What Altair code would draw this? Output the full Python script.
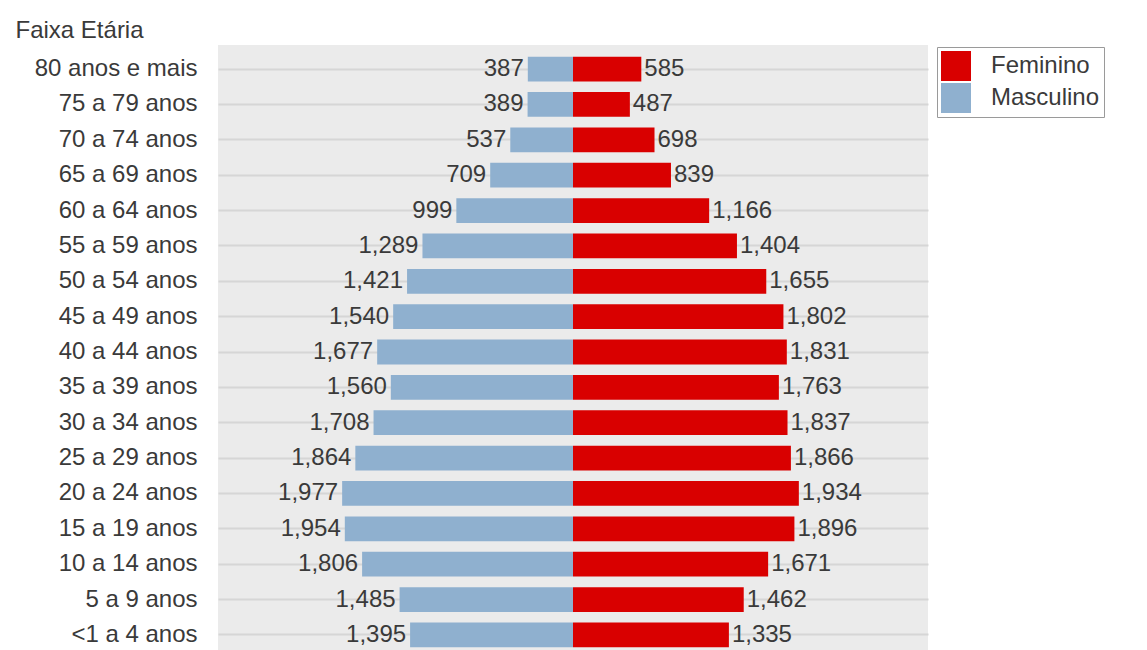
import altair as alt
import pandas as pd

faixas = ["80 anos e mais", "75 a 79 anos", "70 a 74 anos", "65 a 69 anos",
          "60 a 64 anos", "55 a 59 anos", "50 a 54 anos", "45 a 49 anos",
          "40 a 44 anos", "35 a 39 anos", "30 a 34 anos", "25 a 29 anos",
          "20 a 24 anos", "15 a 19 anos", "10 a 14 anos", "5 a 9 anos",
          "<1 a 4 anos"]
masculino = [387, 389, 537, 709, 999, 1289, 1421, 1540, 1677, 1560, 1708,
             1864, 1977, 1954, 1806, 1485, 1395]
feminino = [585, 487, 698, 839, 1166, 1404, 1655, 1802, 1831, 1763, 1837,
            1866, 1934, 1896, 1671, 1462, 1335]
sexos = ["Feminino", "Masculino"]
cores = ["#d90000", "#8fb0cf"]

rows = []
for f, m, w in zip(faixas, masculino, feminino):
    rows.append({"faixa": f, "sexo": "Masculino", "valor": m, "pos": -m})
    rows.append({"faixa": f, "sexo": "Feminino", "valor": w, "pos": w})
df = pd.DataFrame(rows)

FONT = "Liberation Sans"
FS = 24
TXT = "#3a3a3a"

y_enc = alt.Y("faixa:N", sort=faixas,
              scale=alt.Scale(paddingInner=0.3, paddingOuter=0.33),
              axis=alt.Axis(title="Faixa Etária", titleAngle=0, titleAlign="left",
                            titleBaseline="alphabetic", titleX=-203, titleY=-8,
                            titleFontWeight="normal", titleFontSize=FS, titleFont=FONT,
                            titleColor=TXT, labelFont=FONT, labelFontSize=FS,
                            labelColor=TXT, labelPadding=21, ticks=False, domain=False,
                            grid=True, bandPosition=0.5, gridColor="#d6d6d6",
                            gridWidth=2))
x_scale = alt.Scale(domain=[-3040, 3040])

base = alt.Chart(df)

bars = base.mark_bar().encode(
    x=alt.X("pos:Q", scale=x_scale, axis=None),
    y=y_enc,
    color=alt.Color("sexo:N", scale=alt.Scale(domain=sexos, range=cores),
                    legend=alt.Legend(title=None, orient="none", legendX=719, legendY=2,
                                      symbolType="square", symbolSize=900,
                                      symbolStrokeWidth=0, labelFont=FONT,
                                      labelFontSize=FS, labelColor=TXT, labelOffset=20,
                                      padding=4, rowPadding=2, strokeColor="#9a9a9a",
                                      fillColor="white")),
)

lab_m = base.transform_filter(alt.datum.sexo == "Masculino").mark_text(
    align="right", baseline="middle", dx=-4, font=FONT, fontSize=FS, color=TXT
).encode(x=alt.X("pos:Q", scale=x_scale), y=alt.Y("faixa:N", sort=faixas),
         text=alt.Text("valor:Q", format=",d"))

lab_f = base.transform_filter(alt.datum.sexo == "Feminino").mark_text(
    align="left", baseline="middle", dx=3, font=FONT, fontSize=FS, color=TXT
).encode(x=alt.X("pos:Q", scale=x_scale), y=alt.Y("faixa:N", sort=faixas),
         text=alt.Text("valor:Q", format=",d"))

chart = alt.layer(bars, lab_m, lab_f).properties(
    width=710, height=614,
    autosize=alt.AutoSizeParams(type="none"),
    padding={"left": 210, "top": 37, "right": 211, "bottom": 0},
).configure_view(fill="#ebebeb", stroke=None)

chart.save("out.html", embed_options={"renderer": "svg", "actions": False})
